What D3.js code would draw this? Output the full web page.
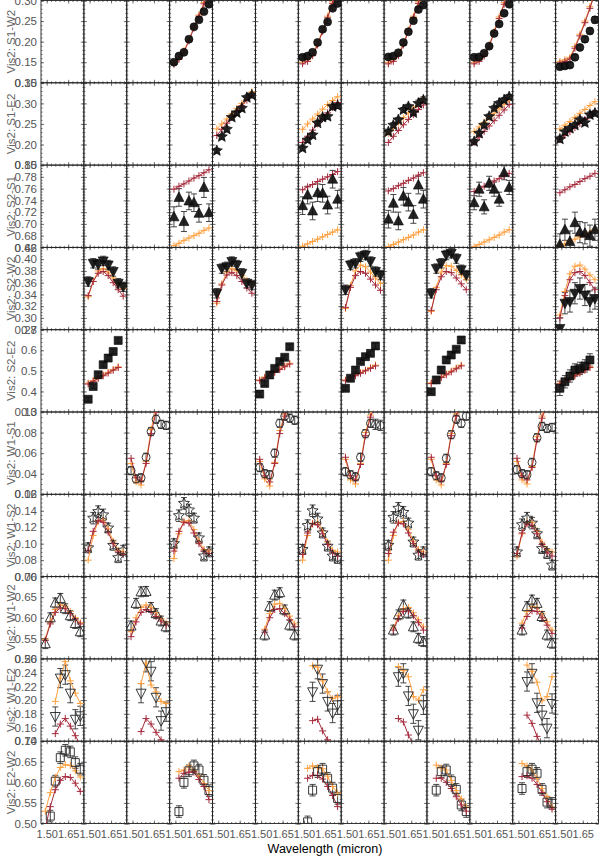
<!DOCTYPE html>
<html><head><meta charset="utf-8">
<script src="https://cdn.jsdelivr.net/npm/d3@7"></script>
<style>body{margin:0;background:#fff}svg{display:block}text{font-family:"Liberation Sans",Arial,Helvetica,sans-serif}</style>
</head><body><svg id="c" width="600" height="858"></svg>
<script>
// ---------------- data ----------------
const wavelengths = [1.49, 1.525, 1.56, 1.595, 1.63, 1.665, 1.70, 1.735];
const xTickLabels = [1.50, 1.65];
const baselines = ["S1-W2","S1-E2","S2-S1","S2-W2","S2-E2","W1-S1","W1-S2","W1-W2","W1-E2","E2-W2"];
const yDomains = [[0.10,0.30],[0.15,0.35],[0.66,0.80],[0.28,0.42],[0.3,0.7],[0.02,0.10],[0.06,0.16],[0.50,0.70],[0.14,0.26],[0.50,0.70]];
const yTickLabels = [
  [0.10,0.15,0.20,0.25,0.30],[0.15,0.20,0.25,0.30,0.35],[0.66,0.68,0.70,0.72,0.74,0.76,0.78,0.80],
  [0.28,0.30,0.32,0.34,0.36,0.38,0.40,0.42],[0.3,0.4,0.5,0.6,0.7],[0.02,0.04,0.06,0.08,0.10],
  [0.06,0.08,0.10,0.12,0.14,0.16],[0.50,0.55,0.60,0.65,0.70],[0.14,0.16,0.18,0.20,0.22,0.24,0.26],[0.50,0.55,0.60,0.65,0.70]];
// epoch column (1..13) of each panel in each baseline row
const panelColumns = [[4,7,9,11,13],[5,7,9,11,13],[4,7,9,11,13],[2,5,8,10,13],[2,6,8,10,13],
                      [3,6,8,10,12],[2,4,7,9,12],[1,3,6,9,12],[1,3,7,9,12],[1,4,7,10,12]];
const N = null;
// S1-W2
const vis2_S1W2 = [[0.150,0.165,0.174,0.206,0.236,0.253,0.273,0.291],[0.162,0.165,0.174,0.198,0.230,0.248,0.281,0.293],[0.163,0.165,0.173,0.198,0.224,0.251,0.278,0.289],[0.162,0.163,0.172,0.189,0.220,0.243,0.269,0.291],[0.139,0.141,0.143,0.162,0.186,0.206,0.226,0.253]];
const err_S1W2 = [[0.004,0.004,0.004,0.004,0.004,0.004,0.004,0.004],[0.004,0.004,0.004,0.004,0.004,0.004,0.004,0.004],[0.004,0.004,0.004,0.004,0.004,0.004,0.004,0.004],[0.004,0.004,0.004,0.004,0.004,0.004,0.004,0.004],[0.006,0.006,0.006,0.006,0.006,0.007,0.007,0.008]];
const modA_S1W2 = [[0.148,0.160,0.178,0.205,0.236,0.265,0.295,0.325],[0.150,0.156,0.170,0.196,0.228,0.262,0.297,0.330],[0.150,0.156,0.170,0.196,0.228,0.262,0.297,0.330],[0.150,0.156,0.168,0.192,0.225,0.260,0.295,0.330],[0.152,0.156,0.162,0.188,0.218,0.250,0.285,0.322]];
const modB_S1W2 = [[0.145,0.157,0.175,0.202,0.233,0.262,0.292,0.322],[0.146,0.152,0.166,0.192,0.225,0.258,0.293,0.326],[0.146,0.152,0.166,0.192,0.225,0.258,0.293,0.326],[0.146,0.152,0.165,0.189,0.222,0.256,0.291,0.326],[0.148,0.152,0.158,0.184,0.214,0.246,0.281,0.318]];
// S1-E2
const vis2_S1E2 = [[0.185,0.219,0.237,0.266,0.277,0.288,0.314,0.320],[0.191,0.211,0.223,0.252,0.266,0.268,0.292,0.294],[0.231,0.247,0.260,0.284,0.292,0.277,0.300,0.308],[0.207,0.227,0.247,0.268,0.288,0.300,0.308,0.316],[0.213,0.231,0.239,0.247,0.260,0.253,0.272,0.276]];
const err_S1E2 = [[0.006,0.006,0.006,0.006,0.006,0.006,0.006,0.006],[0.006,0.006,0.006,0.006,0.006,0.006,0.006,0.006],[0.006,0.006,0.006,0.006,0.006,0.006,0.008,0.008],[0.006,0.006,0.006,0.006,0.006,0.006,0.006,0.006],[0.007,0.007,0.007,0.007,0.007,0.007,0.007,0.007]];
const modA_S1E2 = [[0.238,0.250,0.262,0.275,0.288,0.300,0.315,0.328],[0.237,0.250,0.262,0.274,0.286,0.297,0.307,0.316],[0.227,0.240,0.252,0.265,0.277,0.289,0.300,0.312],[0.232,0.243,0.254,0.265,0.276,0.287,0.298,0.308],[0.238,0.247,0.256,0.266,0.276,0.285,0.295,0.304]];
const modB_S1E2 = [[0.222,0.237,0.252,0.266,0.280,0.294,0.308,0.320],[0.205,0.220,0.235,0.250,0.263,0.277,0.290,0.302],[0.205,0.220,0.234,0.248,0.261,0.273,0.285,0.296],[0.205,0.218,0.232,0.245,0.258,0.271,0.284,0.297],[0.212,0.222,0.231,0.241,0.251,0.261,0.270,0.280]];
// S2-S1
const vis2_S2S1 = [[0.712,0.745,0.704,0.739,0.736,0.718,0.762,0.719],[0.731,0.749,0.722,0.753,0.752,0.732,0.776,0.742],[0.708,0.735,0.705,0.747,0.737,0.716,0.766,0.742],[0.736,0.759,0.729,0.769,0.759,0.742,0.787,0.762],[0.665,0.690,0.670,0.702,0.686,0.684,0.680,0.690]];
const err_S2S1 = [[0.017,0.015,0.017,0.015,0.015,0.015,0.017,0.015],[0.015,0.015,0.015,0.015,0.015,0.015,0.015,0.015],[0.015,0.015,0.015,0.015,0.015,0.015,0.015,0.015],[0.012,0.012,0.012,0.012,0.012,0.012,0.012,0.012],[0.018,0.018,0.018,0.018,0.018,0.018,0.018,0.018]];
const modA_S2S1 = [[0.663,0.667,0.672,0.676,0.680,0.684,0.689,0.693],[0.662,0.666,0.670,0.674,0.678,0.682,0.686,0.690],[0.661,0.665,0.669,0.673,0.677,0.681,0.686,0.690],[0.661,0.665,0.669,0.673,0.677,0.681,0.686,0.690],[0.662,0.666,0.670,0.674,0.678,0.682,0.686,0.690]];
const modB_S2S1 = [[0.759,0.764,0.768,0.773,0.778,0.782,0.787,0.792],[0.758,0.763,0.767,0.772,0.776,0.780,0.784,0.789],[0.756,0.760,0.765,0.769,0.774,0.778,0.783,0.787],[0.755,0.759,0.764,0.768,0.773,0.777,0.782,0.786],[0.753,0.758,0.763,0.767,0.772,0.777,0.781,0.786]];
// S2-W2
const vis2_S2W2 = [[0.362,0.393,0.391,0.397,0.390,0.379,0.359,0.353],[0.342,0.384,0.387,0.396,0.390,0.376,0.359,0.356],[0.348,0.390,0.393,0.404,0.407,0.396,0.379,0.373],[0.342,0.384,0.393,0.407,0.410,0.401,0.382,0.373],[0.282,0.325,0.328,0.342,0.350,0.339,0.328,0.333]];
const err_S2W2 = [[0.008,0.008,0.008,0.008,0.008,0.008,0.008,0.008],[0.008,0.008,0.008,0.008,0.008,0.008,0.008,0.008],[0.008,0.008,0.008,0.008,0.008,0.008,0.008,0.008],[0.008,0.008,0.008,0.008,0.008,0.008,0.008,0.008],[0.018,0.018,0.018,0.018,0.018,0.018,0.018,0.018]];
const modA_S2W2 = [[0.336,0.362,0.380,0.384,0.378,0.368,0.358,0.350],[0.325,0.358,0.378,0.384,0.380,0.372,0.364,0.358],[0.316,0.355,0.380,0.390,0.387,0.378,0.368,0.359],[0.311,0.352,0.378,0.389,0.388,0.381,0.373,0.365],[0.305,0.345,0.375,0.388,0.390,0.383,0.373,0.365]];
const modB_S2W2 = [[0.338,0.362,0.376,0.379,0.372,0.360,0.348,0.337],[0.328,0.356,0.373,0.377,0.372,0.362,0.351,0.342],[0.318,0.352,0.372,0.379,0.376,0.366,0.356,0.347],[0.313,0.348,0.370,0.379,0.377,0.368,0.358,0.348],[0.300,0.338,0.365,0.377,0.379,0.372,0.360,0.348]];
// S2-E2
const vis2_S2E2 = [[0.362,0.424,0.481,0.530,0.562,0.594,0.648,N],[0.387,0.439,0.480,0.512,0.545,0.566,0.617,N],[0.415,0.464,0.504,0.545,0.569,0.585,0.621,N],[0.399,0.456,0.504,0.553,0.577,0.605,0.650,N],[0.415,0.447,0.475,0.504,0.512,0.524,0.553,N]];
const err_S2E2 = [[0.01,0.01,0.01,0.01,0.01,0.01,0.012,N],[0.01,0.01,0.01,0.01,0.01,0.01,0.012,N],[0.01,0.01,0.01,0.01,0.01,0.01,0.012,N],[0.01,0.01,0.01,0.01,0.01,0.01,0.012,N],[0.035,0.03,0.03,0.03,0.03,0.03,0.03,N]];
const modA_S2E2 = [[0.440,0.453,0.467,0.480,0.493,0.507,0.520,N],[0.456,0.470,0.483,0.497,0.510,0.524,0.537,N],[0.456,0.468,0.480,0.492,0.504,0.516,0.528,N],[0.442,0.456,0.471,0.485,0.499,0.514,0.528,N],[0.440,0.453,0.467,0.480,0.493,0.507,0.520,N]];
const modB_S2E2 = [[0.436,0.449,0.463,0.476,0.489,0.503,0.516,N],[0.452,0.466,0.479,0.493,0.506,0.520,0.533,N],[0.452,0.464,0.476,0.488,0.500,0.512,0.524,N],[0.438,0.452,0.467,0.481,0.495,0.510,0.524,N],[0.436,0.449,0.463,0.476,0.489,0.503,0.516,N]];
// W1-S1
const vis2_W1S1 = [[0.043,0.035,0.036,0.056,0.081,0.093,0.088,0.087],[0.046,0.040,0.039,0.060,0.089,0.096,0.094,0.092],[0.042,0.039,0.037,0.056,0.079,0.089,0.088,0.087],[0.042,0.038,0.036,0.055,0.078,0.093,0.089,0.096],[0.044,0.040,0.039,0.051,0.075,0.086,0.084,0.085]];
const err_W1S1 = [[0.004,0.004,0.004,0.004,0.004,0.004,0.004,0.004],[0.004,0.004,0.004,0.004,0.004,0.004,0.004,0.004],[0.004,0.004,0.004,0.004,0.004,0.004,0.005,0.005],[0.004,0.004,0.004,0.004,0.004,0.004,0.004,0.004],[0.004,0.004,0.004,0.004,0.004,0.004,0.004,0.004]];
const modA_W1S1 = [[0.050,0.032,0.029,0.052,0.083,0.105,0.120,0.130],[0.052,0.035,0.028,0.051,0.082,0.098,0.112,0.122],[0.054,0.034,0.030,0.050,0.080,0.097,0.110,0.120],[0.054,0.034,0.029,0.050,0.079,0.098,0.112,0.122],[0.052,0.034,0.030,0.047,0.076,0.096,0.110,0.120]];
const modB_W1S1 = [[0.055,0.036,0.033,0.050,0.079,0.100,0.116,0.126],[0.054,0.038,0.032,0.050,0.079,0.096,0.110,0.120],[0.056,0.038,0.034,0.049,0.077,0.095,0.108,0.118],[0.056,0.038,0.033,0.049,0.077,0.096,0.110,0.120],[0.055,0.038,0.034,0.046,0.073,0.094,0.108,0.118]];
// W1-S2
const vis2_W1S2 = [[0.095,0.131,0.139,0.135,0.119,0.098,0.083,0.092],[0.100,0.134,0.149,0.141,0.131,0.107,0.085,0.090],[0.093,0.122,0.140,0.130,0.113,0.097,0.085,0.082],[0.098,0.132,0.143,0.138,0.125,0.102,0.086,0.090],[0.090,0.123,0.131,0.125,0.112,0.094,0.088,0.074]];
const err_W1S2 = [[0.006,0.007,0.007,0.007,0.006,0.006,0.006,0.006],[0.006,0.007,0.007,0.007,0.006,0.006,0.006,0.006],[0.006,0.007,0.007,0.007,0.006,0.006,0.006,0.006],[0.006,0.007,0.007,0.007,0.006,0.006,0.006,0.006],[0.006,0.007,0.007,0.007,0.006,0.006,0.006,0.006]];
const modA_W1S2 = [[0.080,0.110,0.127,0.129,0.118,0.103,0.092,0.090],[0.082,0.112,0.127,0.128,0.117,0.103,0.093,0.091],[0.080,0.110,0.125,0.126,0.116,0.102,0.092,0.090],[0.080,0.110,0.126,0.127,0.117,0.103,0.093,0.090],[0.085,0.112,0.126,0.126,0.116,0.102,0.093,0.090]];
const modB_W1S2 = [[0.092,0.115,0.128,0.126,0.114,0.100,0.090,0.087],[0.091,0.115,0.126,0.125,0.113,0.100,0.091,0.088],[0.087,0.113,0.124,0.123,0.112,0.099,0.089,0.085],[0.088,0.114,0.125,0.124,0.113,0.100,0.090,0.087],[0.088,0.113,0.124,0.122,0.112,0.099,0.089,0.085]];
// W1-W2
const vis2_W1W2 = [[0.537,0.600,0.636,0.647,0.622,0.605,0.586,0.566],[0.580,0.635,0.663,0.664,0.625,0.610,0.592,0.578],[N,0.558,0.627,0.655,0.661,0.619,0.582,0.558],[N,0.570,0.607,0.631,0.611,0.578,0.550,0.542],[N,0.570,0.627,0.643,0.635,0.603,0.558,0.538]];
const err_W1W2 = [[0.012,0.012,0.012,0.012,0.012,0.012,0.012,0.012],[0.012,0.012,0.012,0.012,0.012,0.012,0.012,0.012],[N,0.012,0.012,0.012,0.012,0.012,0.012,0.012],[N,0.012,0.012,0.012,0.012,0.012,0.012,0.012],[N,0.012,0.012,0.012,0.012,0.012,0.012,0.012]];
const modA_W1W2 = [[0.548,0.590,0.620,0.631,0.628,0.615,0.600,0.588],[0.566,0.600,0.625,0.631,0.625,0.612,0.598,0.587],[N,0.572,0.610,0.633,0.635,0.622,0.604,0.585],[N,0.575,0.605,0.622,0.625,0.612,0.595,0.578],[N,0.587,0.615,0.627,0.625,0.610,0.590,0.570]];
const modB_W1W2 = [[0.545,0.585,0.613,0.624,0.622,0.610,0.597,0.585],[0.554,0.590,0.613,0.620,0.615,0.603,0.592,0.582],[N,0.565,0.600,0.620,0.622,0.610,0.595,0.578],[N,0.570,0.598,0.615,0.617,0.605,0.588,0.570],[N,0.575,0.603,0.617,0.615,0.600,0.582,0.562]];
// W1-E2
const vis2_W1E2 = [[N,N,0.176,0.232,0.237,0.210,0.172,0.177],[N,N,0.210,0.255,0.242,0.204,0.170,0.183],[N,N,0.212,0.245,0.224,0.198,0.181,0.193],[N,N,0.234,0.239,0.206,0.180,0.156,0.193],[N,N,0.227,0.239,0.196,0.178,0.159,0.195]];
const err_W1E2 = [[N,N,0.014,0.014,0.014,0.014,0.014,0.014],[N,N,0.014,0.014,0.014,0.014,0.014,0.014],[N,N,0.014,0.014,0.014,0.014,0.014,0.014],[N,N,0.014,0.014,0.014,0.014,0.014,0.014],[N,N,0.014,0.014,0.014,0.014,0.014,0.014]];
const modA_W1E2 = [[N,N,0.198,0.232,0.256,0.228,0.210,0.195],[N,N,0.224,0.254,0.222,0.212,0.198,0.195],[N,N,0.250,0.248,0.228,0.212,0.202,0.205],[N,N,0.249,0.243,0.234,0.205,0.200,0.215],[N,N,0.251,0.242,0.226,0.199,0.205,0.234]];
const modB_W1E2 = [[N,N,0.151,0.165,0.173,0.162,0.148,0.135],[N,N,0.154,0.173,0.165,0.153,0.142,0.135],[N,N,0.170,0.172,0.155,0.142,0.130,0.120],[N,N,0.173,0.168,0.149,0.135,0.125,0.118],[N,N,0.178,0.166,0.147,0.132,0.122,0.115]];
// E2-W2
const vis2_E2W2 = [[N,0.518,0.603,0.660,0.678,0.674,0.648,0.632],[N,0.529,0.600,0.628,0.640,0.630,0.605,0.580],[N,0.504,0.581,0.626,0.632,0.610,0.586,0.561],[N,0.581,0.626,0.630,0.604,0.583,0.545,0.529],[N,0.585,0.626,0.632,0.622,0.583,0.552,0.549]];
const err_E2W2 = [[N,0.014,0.014,0.014,0.014,0.014,0.014,0.014],[N,0.014,0.014,0.014,0.014,0.014,0.014,0.014],[N,0.014,0.014,0.014,0.014,0.014,0.014,0.014],[N,0.014,0.014,0.014,0.014,0.014,0.014,0.014],[N,0.014,0.014,0.014,0.014,0.014,0.014,0.014]];
const modA_E2W2 = [[0.530,0.575,0.612,0.636,0.643,0.641,0.628,0.613],[N,0.626,0.630,0.640,0.629,0.615,0.597,0.580],[N,0.634,0.640,0.636,0.633,0.615,0.590,0.574],[N,0.642,0.635,0.630,0.605,0.580,0.560,0.540],[N,0.646,0.640,0.630,0.610,0.585,0.565,0.540]];
const modB_E2W2 = [[0.490,0.541,0.582,0.605,0.614,0.612,0.598,0.578],[N,0.610,0.622,0.625,0.625,0.607,0.590,0.558],[N,0.610,0.617,0.617,0.608,0.590,0.568,0.541],[N,0.610,0.610,0.600,0.585,0.565,0.545,0.530],[N,0.614,0.616,0.610,0.595,0.575,0.553,0.535]];

const vis2Rows = [vis2_S1W2,vis2_S1E2,vis2_S2S1,vis2_S2W2,vis2_S2E2,vis2_W1S1,vis2_W1S2,vis2_W1W2,vis2_W1E2,vis2_E2W2];
const errRows  = [err_S1W2,err_S1E2,err_S2S1,err_S2W2,err_S2E2,err_W1S1,err_W1S2,err_W1W2,err_W1E2,err_E2W2];
const modARows = [modA_S1W2,modA_S1E2,modA_S2S1,modA_S2W2,modA_S2E2,modA_W1S1,modA_W1S2,modA_W1W2,modA_W1E2,modA_E2W2];
const modBRows = [modB_S1W2,modB_S1E2,modB_S2S1,modB_S2W2,modB_S2E2,modB_W1S1,modB_W1S2,modB_W1W2,modB_W1E2,modB_E2W2];

// ---------------- styles ----------------
const markerType = ["circle","star","triUp","triDown","square","circle","star","triUp","triDown","square"];
const markerFilled = [true,true,true,true,true,false,false,false,false,false];
const yFormat = [".2f",".2f",".2f",".2f",".1f",".2f",".2f",".2f",".2f",".2f"];
const yMinor = [0.01,0.01,0.005,0.005,0.02,0.005,0.005,0.01,0.005,0.01];
const colorA = "#ffa040", colorB = "#a52a3c";

const NC = 13, NR = 10;
const X0 = 41, X1 = 598.5, Y0 = 0.5, Y1 = 823.5;
const colW = (X1 - X0) / NC, rowH = (Y1 - Y0) / NR;
const svg = d3.select("#c");

function markerPath(type, s) {
  const p = d3.path();
  if (type === "circle") { p.moveTo(s, 0); p.arc(0, 0, s, 0, 2 * Math.PI); }
  else if (type === "square") { p.rect(-s, -s, 2 * s, 2 * s); }
  else if (type === "triUp") { p.moveTo(0, -s * 1.1); p.lineTo(s, s * 0.8); p.lineTo(-s, s * 0.8); p.closePath(); }
  else if (type === "triDown") { p.moveTo(0, s * 1.1); p.lineTo(s, -s * 0.8); p.lineTo(-s, -s * 0.8); p.closePath(); }
  else if (type === "star") {
    for (let i = 0; i < 10; i++) {
      const r = i % 2 ? s * 0.45 : s, a = -Math.PI / 2 + i * Math.PI / 5;
      const x = r * Math.cos(a), y = r * Math.sin(a);
      if (i === 0) p.moveTo(x, y); else p.lineTo(x, y);
    }
    p.closePath();
  }
  return p.toString();
}
const markerSize = {circle: 4, square: 4, triUp: 5, triDown: 5, star: 5.8};

const xMinorTicks = d3.range(1.47, 1.76, 0.03);
const tickColor = "#555", tickW = 0.8;

const defs = svg.append("defs");

for (let r = 0; r < NR; r++) {
  const ry = Y0 + r * rowH;
  const y = d3.scaleLinear().domain(yDomains[r]).range([ry + rowH, ry]);
  const [ya, yb] = yDomains[r];
  const yMinorTicks = d3.range(ya, yb + 1e-9, yMinor[r]);
  for (let c = 0; c < NC; c++) {
    const cx = X0 + c * colW;
    const x = d3.scaleLinear().domain([1.46, 1.76]).range([cx, cx + colW]);
    const g = svg.append("g").attr("class", "frame");
    const strip = sel => { sel.select(".domain").remove(); sel.selectAll("line").attr("stroke", tickColor).attr("stroke-width", tickW); };
    g.append("g").attr("transform", `translate(0,${ry + rowH})`)
      .call(d3.axisBottom(x).tickValues(xMinorTicks).tickSize(-1.5).tickFormat("")).call(strip);
    g.append("g").attr("transform", `translate(0,${ry})`)
      .call(d3.axisTop(x).tickValues(xMinorTicks).tickSize(-1.5).tickFormat("")).call(strip);
    g.append("g").attr("transform", `translate(0,${ry})`)
      .call(d3.axisTop(x).tickValues(xTickLabels).tickSize(-3).tickFormat("")).call(strip);
    const bx = g.append("g").attr("transform", `translate(0,${ry + rowH})`)
      .call(d3.axisBottom(x).tickValues(xTickLabels).tickSize(-3).tickPadding(7)
        .tickFormat(r === NR - 1 ? d3.format(".2f") : "")).call(strip);
    bx.attr("font-size", 11).attr("font-family", "Liberation Sans, Arial, sans-serif");
    bx.selectAll("text").attr("fill", "#555");
    g.append("g").attr("transform", `translate(${cx},0)`)
      .call(d3.axisLeft(y).tickValues(yMinorTicks).tickSize(-1.5).tickFormat("")).call(strip);
    g.append("g").attr("transform", `translate(${cx + colW},0)`)
      .call(d3.axisRight(y).tickValues(yMinorTicks).tickSize(-1.5).tickFormat("")).call(strip);
    g.append("g").attr("transform", `translate(${cx + colW},0)`)
      .call(d3.axisRight(y).tickValues(yTickLabels[r]).tickSize(-3).tickFormat("")).call(strip);
    const ly = g.append("g").attr("transform", `translate(${cx},0)`)
      .call(d3.axisLeft(y).tickValues(yTickLabels[r]).tickSize(-3).tickPadding(4)
        .tickFormat(c === 0 ? d3.format(yFormat[r]) : "")).call(strip);
    ly.attr("font-size", 11.5).attr("font-family", "Liberation Sans, Arial, sans-serif");
    ly.selectAll("text").attr("fill", "#555");
    g.append("rect").attr("x", cx).attr("y", ry).attr("width", colW).attr("height", rowH)
      .attr("fill", "none").attr("stroke", "#222").attr("stroke-width", 0.9);
  }
  svg.append("text").attr("transform", `translate(14.5,${ry + rowH / 2}) rotate(-90)`)
    .attr("text-anchor", "middle").attr("font-size", 11.5).attr("fill", "#666")
    .text("Vis2:  " + baselines[r]);

  panelColumns[r].forEach((col, p) => {
    const cx = X0 + (col - 1) * colW;
    const x = d3.scaleLinear().domain([1.46, 1.76]).range([cx, cx + colW]);
    const id = `clip${r}_${p}`;
    defs.append("clipPath").attr("id", id).append("rect")
      .attr("x", cx).attr("y", ry).attr("width", colW).attr("height", rowH);
    const pg = svg.append("g").attr("clip-path", `url(#${id})`);
    const obs = vis2Rows[r][p], err = errRows[r][p];
    const pts = wavelengths.map((w, i) => ({w, v: obs[i], e: err[i]})).filter(d => d.v != null);
    const eb = pg.append("g").attr("stroke", "#333").attr("stroke-width", 0.9).attr("fill", "none");
    pts.forEach(d => {
      const px = x(d.w), yt = y(d.v + d.e), yb2 = y(d.v - d.e);
      eb.append("line").attr("x1", px).attr("x2", px).attr("y1", yt).attr("y2", yb2);
      eb.append("line").attr("x1", px - 3).attr("x2", px + 3).attr("y1", yt).attr("y2", yt);
      eb.append("line").attr("x1", px - 3).attr("x2", px + 3).attr("y1", yb2).attr("y2", yb2);
    });
    [[modARows[r][p], colorA], [modBRows[r][p], colorB]].forEach(([m, col2]) => {
      const mp = wavelengths.map((w, i) => ({w, v: m[i]}));
      pg.append("path").datum(mp)
        .attr("d", d3.line().defined(d => d.v != null).x(d => x(d.w)).y(d => y(d.v)))
        .attr("fill", "none").attr("stroke", col2).attr("stroke-width", 1);
      const cg = pg.append("g").attr("stroke", col2).attr("stroke-width", 1);
      mp.filter(d => d.v != null).forEach(d => {
        const px = x(d.w), py = y(d.v);
        cg.append("line").attr("x1", px - 3.5).attr("x2", px + 3.5).attr("y1", py).attr("y2", py);
        cg.append("line").attr("x1", px).attr("x2", px).attr("y1", py - 3.5).attr("y2", py + 3.5);
      });
    });
    const t = markerType[r], filled = markerFilled[r];
    pg.append("g").selectAll("path").data(pts).join("path")
      .attr("d", markerPath(t, markerSize[t]))
      .attr("transform", d => `translate(${x(d.w)},${y(d.v)})`)
      .attr("fill", filled ? "#111" : "none")
      .attr("fill-opacity", filled ? 0.92 : 0)
      .attr("stroke", filled ? "#000" : "#222").attr("stroke-width", filled ? 0.6 : 0.9);
  });
}

svg.append("text").attr("x", 325).attr("y", 853).attr("text-anchor", "middle")
  .attr("font-size", 12.5).attr("fill", "#000").text("Wavelength (micron)");
</script></body></html>
